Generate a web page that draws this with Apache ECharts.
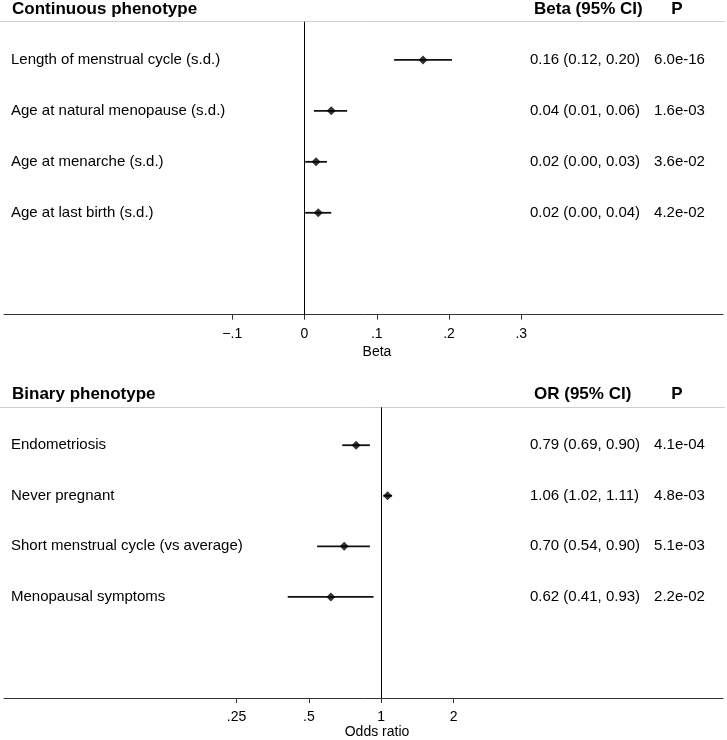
<!DOCTYPE html>
<html><head><meta charset="utf-8">
<script src="https://cdn.jsdelivr.net/npm/echarts@6/dist/echarts.min.js"></script>
<style>html,body{margin:0;padding:0;background:#fff}#c{width:727px;height:740px}</style>
</head><body><div id="c"></div>
<script>
// ---- data ----
const rows = [1, 2, 3, 4];
const contNames = ['Length of menstrual cycle (s.d.)', 'Age at natural menopause (s.d.)', 'Age at menarche (s.d.)', 'Age at last birth (s.d.)'];
const contEst = [0.164, 0.037, 0.016, 0.019];
const contLo = [0.124, 0.013, 0.001, 0.001];
const contHi = [0.204, 0.059, 0.031, 0.037];
const contCI = ['0.16 (0.12, 0.20)', '0.04 (0.01, 0.06)', '0.02 (0.00, 0.03)', '0.02 (0.00, 0.04)'];
const contP = ['6.0e-16', '1.6e-03', '3.6e-02', '4.2e-02'];

const binNames = ['Endometriosis', 'Never pregnant', 'Short menstrual cycle (vs average)', 'Menopausal symptoms'];
const binEst = [0.786, 1.063, 0.701, 0.617];
const binLo = [0.688, 1.02, 0.541, 0.408];
const binHi = [0.897, 1.11, 0.897, 0.929];
const binCI = ['0.79 (0.69, 0.90)', '1.06 (1.02, 1.11)', '0.70 (0.54, 0.90)', '0.62 (0.41, 0.93)'];
const binP = ['4.1e-04', '4.8e-03', '5.1e-03', '2.2e-02'];

const betaTicks = [-0.1, 0, 0.1, 0.2, 0.3];
const betaTickLabels = ['\u2212.1', '0', '.1', '.2', '.3'];
const orTicks = [0.25, 0.5, 1, 2];
const orTickLabels = ['.25', '.5', '1', '2'];

// ---- chart ----
const FONT = 'Liberation Sans, Arial, Helvetica, sans-serif';
const chart = echarts.init(document.getElementById('c'), null, {renderer: 'canvas'});

function pick(ticks, labels) {
  return function (v) {
    for (let i = 0; i < ticks.length; i++) if (Math.abs(ticks[i] - v) < 1e-9) return labels[i];
    return '';
  };
}
function rowLabel(names) {
  return function (v) { const i = rows.indexOf(Math.round(v)); return i >= 0 ? names[i] : ''; };
}
function rightLabel(ci, p) {
  return function (v) { const i = rows.indexOf(Math.round(v)); return i >= 0 ? '{v|' + ci[i] + '}{p|' + p[i] + '}' : ''; };
}
const rich = {
  v: {width: 123, align: 'left', fontSize: 15, fontFamily: FONT, color: '#000'},
  p: {width: 53, align: 'center', fontSize: 15, fontFamily: FONT, color: '#000'}
};
function ciItem(params, api) {
  const y = api.value(2);
  const a = api.coord([api.value(0), y]);
  const b = api.coord([api.value(1), y]);
  return {type: 'line', shape: {x1: a[0], y1: a[1], x2: b[0], y2: b[1]}, style: {stroke: '#111', lineWidth: 1.8}};
}
function yAxes(gi, names, ci, p) {
  return [
    {gridIndex: gi, type: 'value', inverse: true, min: 0.25, max: 6, position: 'left',
     axisLine: {show: false, onZero: false}, axisTick: {show: false}, splitLine: {show: false},
     axisLabel: {inside: true, margin: 7, customValues: rows, formatter: rowLabel(names),
                 fontSize: 15, fontFamily: FONT, color: '#000'}},
    {gridIndex: gi, type: 'value', inverse: true, min: 0.25, max: 6, position: 'right',
     axisLine: {show: false, onZero: false}, axisTick: {show: false}, splitLine: {show: false},
     axisLabel: {inside: true, margin: 17, customValues: rows, formatter: rightLabel(ci, p), rich: rich}}
  ];
}
const refLine = (v) => ({
  silent: true, symbol: ['none', 'none'], label: {show: false},
  lineStyle: {color: '#000', width: 1, type: 'solid'}, emphasis: {disabled: true},
  data: [{xAxis: v}]
});

chart.setOption({
  animation: false,
  backgroundColor: '#fff',
  textStyle: {fontFamily: FONT},
  grid: [
    {left: 4, right: 4, top: 21.7, height: 293},
    {left: 4, right: 4, top: 407.3, height: 292}
  ],
  xAxis: [
    {gridIndex: 0, type: 'value', min: -0.4159, max: 0.5792,
     axisLine: {show: true, onZero: false, lineStyle: {color: '#333', width: 1}},
     axisTick: {show: true, length: 5, customValues: betaTicks, lineStyle: {color: '#333'}},
     axisLabel: {customValues: betaTicks, formatter: pick(betaTicks, betaTickLabels), margin: 12,
                 fontSize: 14, fontFamily: FONT, color: '#000'},
     splitLine: {show: false},
     name: 'Beta', nameLocation: 'middle', nameGap: 30,
     nameTextStyle: {fontSize: 14, fontFamily: FONT, color: '#000', padding: [0, 0, 0, 27]}},
    {gridIndex: 1, type: 'log', logBase: 2, min: 0.0269, max: 26.46,
     axisLine: {show: true, onZero: false, lineStyle: {color: '#333', width: 1}},
     axisTick: {show: true, length: 5, customValues: orTicks, lineStyle: {color: '#333'}},
     axisLabel: {customValues: orTicks, formatter: pick(orTicks, orTickLabels), margin: 12,
                 fontSize: 14, fontFamily: FONT, color: '#000'},
     splitLine: {show: false}, minorTick: {show: false},
     name: 'Odds ratio', nameLocation: 'middle', nameGap: 27,
     nameTextStyle: {fontSize: 14, fontFamily: FONT, color: '#000', padding: [0, 0, 0, 27]}}
  ],
  yAxis: yAxes(0, contNames, contCI, contP).concat(yAxes(1, binNames, binCI, binP)),
  series: [
    {type: 'custom', xAxisIndex: 0, yAxisIndex: 0, renderItem: ciItem, silent: true,
     encode: {x: [0, 1], y: 2}, data: rows.map((r, i) => [contLo[i], contHi[i], r])},
    {type: 'scatter', xAxisIndex: 0, yAxisIndex: 0, symbol: 'diamond', symbolSize: 9,
     itemStyle: {color: '#000'}, silent: true,
     data: rows.map((r, i) => [contEst[i], r]), markLine: refLine(0)},
    {type: 'custom', xAxisIndex: 1, yAxisIndex: 2, renderItem: ciItem, silent: true,
     encode: {x: [0, 1], y: 2}, data: rows.map((r, i) => [binLo[i], binHi[i], r])},
    {type: 'scatter', xAxisIndex: 1, yAxisIndex: 2, symbol: 'diamond', symbolSize: 9,
     itemStyle: {color: '#000'}, silent: true,
     data: rows.map((r, i) => [binEst[i], r]), markLine: refLine(1)}
  ],
  graphic: [
    {type: 'line', shape: {x1: 0, y1: 21.5, x2: 725, y2: 21.5}, style: {stroke: '#cfcfcf', lineWidth: 1}, silent: true},
    {type: 'line', shape: {x1: 0, y1: 407.5, x2: 725, y2: 407.5}, style: {stroke: '#cfcfcf', lineWidth: 1}, silent: true},
    {type: 'text', x: 12, y: 9, style: {text: 'Continuous phenotype', font: 'bold 17px ' + FONT, fill: '#000', textAlign: 'left', textVerticalAlign: 'middle'}},
    {type: 'text', x: 534, y: 9, style: {text: 'Beta (95% CI)', font: 'bold 17px ' + FONT, fill: '#000', textAlign: 'left', textVerticalAlign: 'middle'}},
    {type: 'text', x: 677, y: 9, style: {text: 'P', font: 'bold 17px ' + FONT, fill: '#000', textAlign: 'center', textVerticalAlign: 'middle'}},
    {type: 'text', x: 12, y: 394, style: {text: 'Binary phenotype', font: 'bold 17px ' + FONT, fill: '#000', textAlign: 'left', textVerticalAlign: 'middle'}},
    {type: 'text', x: 534, y: 394, style: {text: 'OR (95% CI)', font: 'bold 17px ' + FONT, fill: '#000', textAlign: 'left', textVerticalAlign: 'middle'}},
    {type: 'text', x: 677, y: 394, style: {text: 'P', font: 'bold 17px ' + FONT, fill: '#000', textAlign: 'center', textVerticalAlign: 'middle'}}
  ]
});
</script>
</body></html>
